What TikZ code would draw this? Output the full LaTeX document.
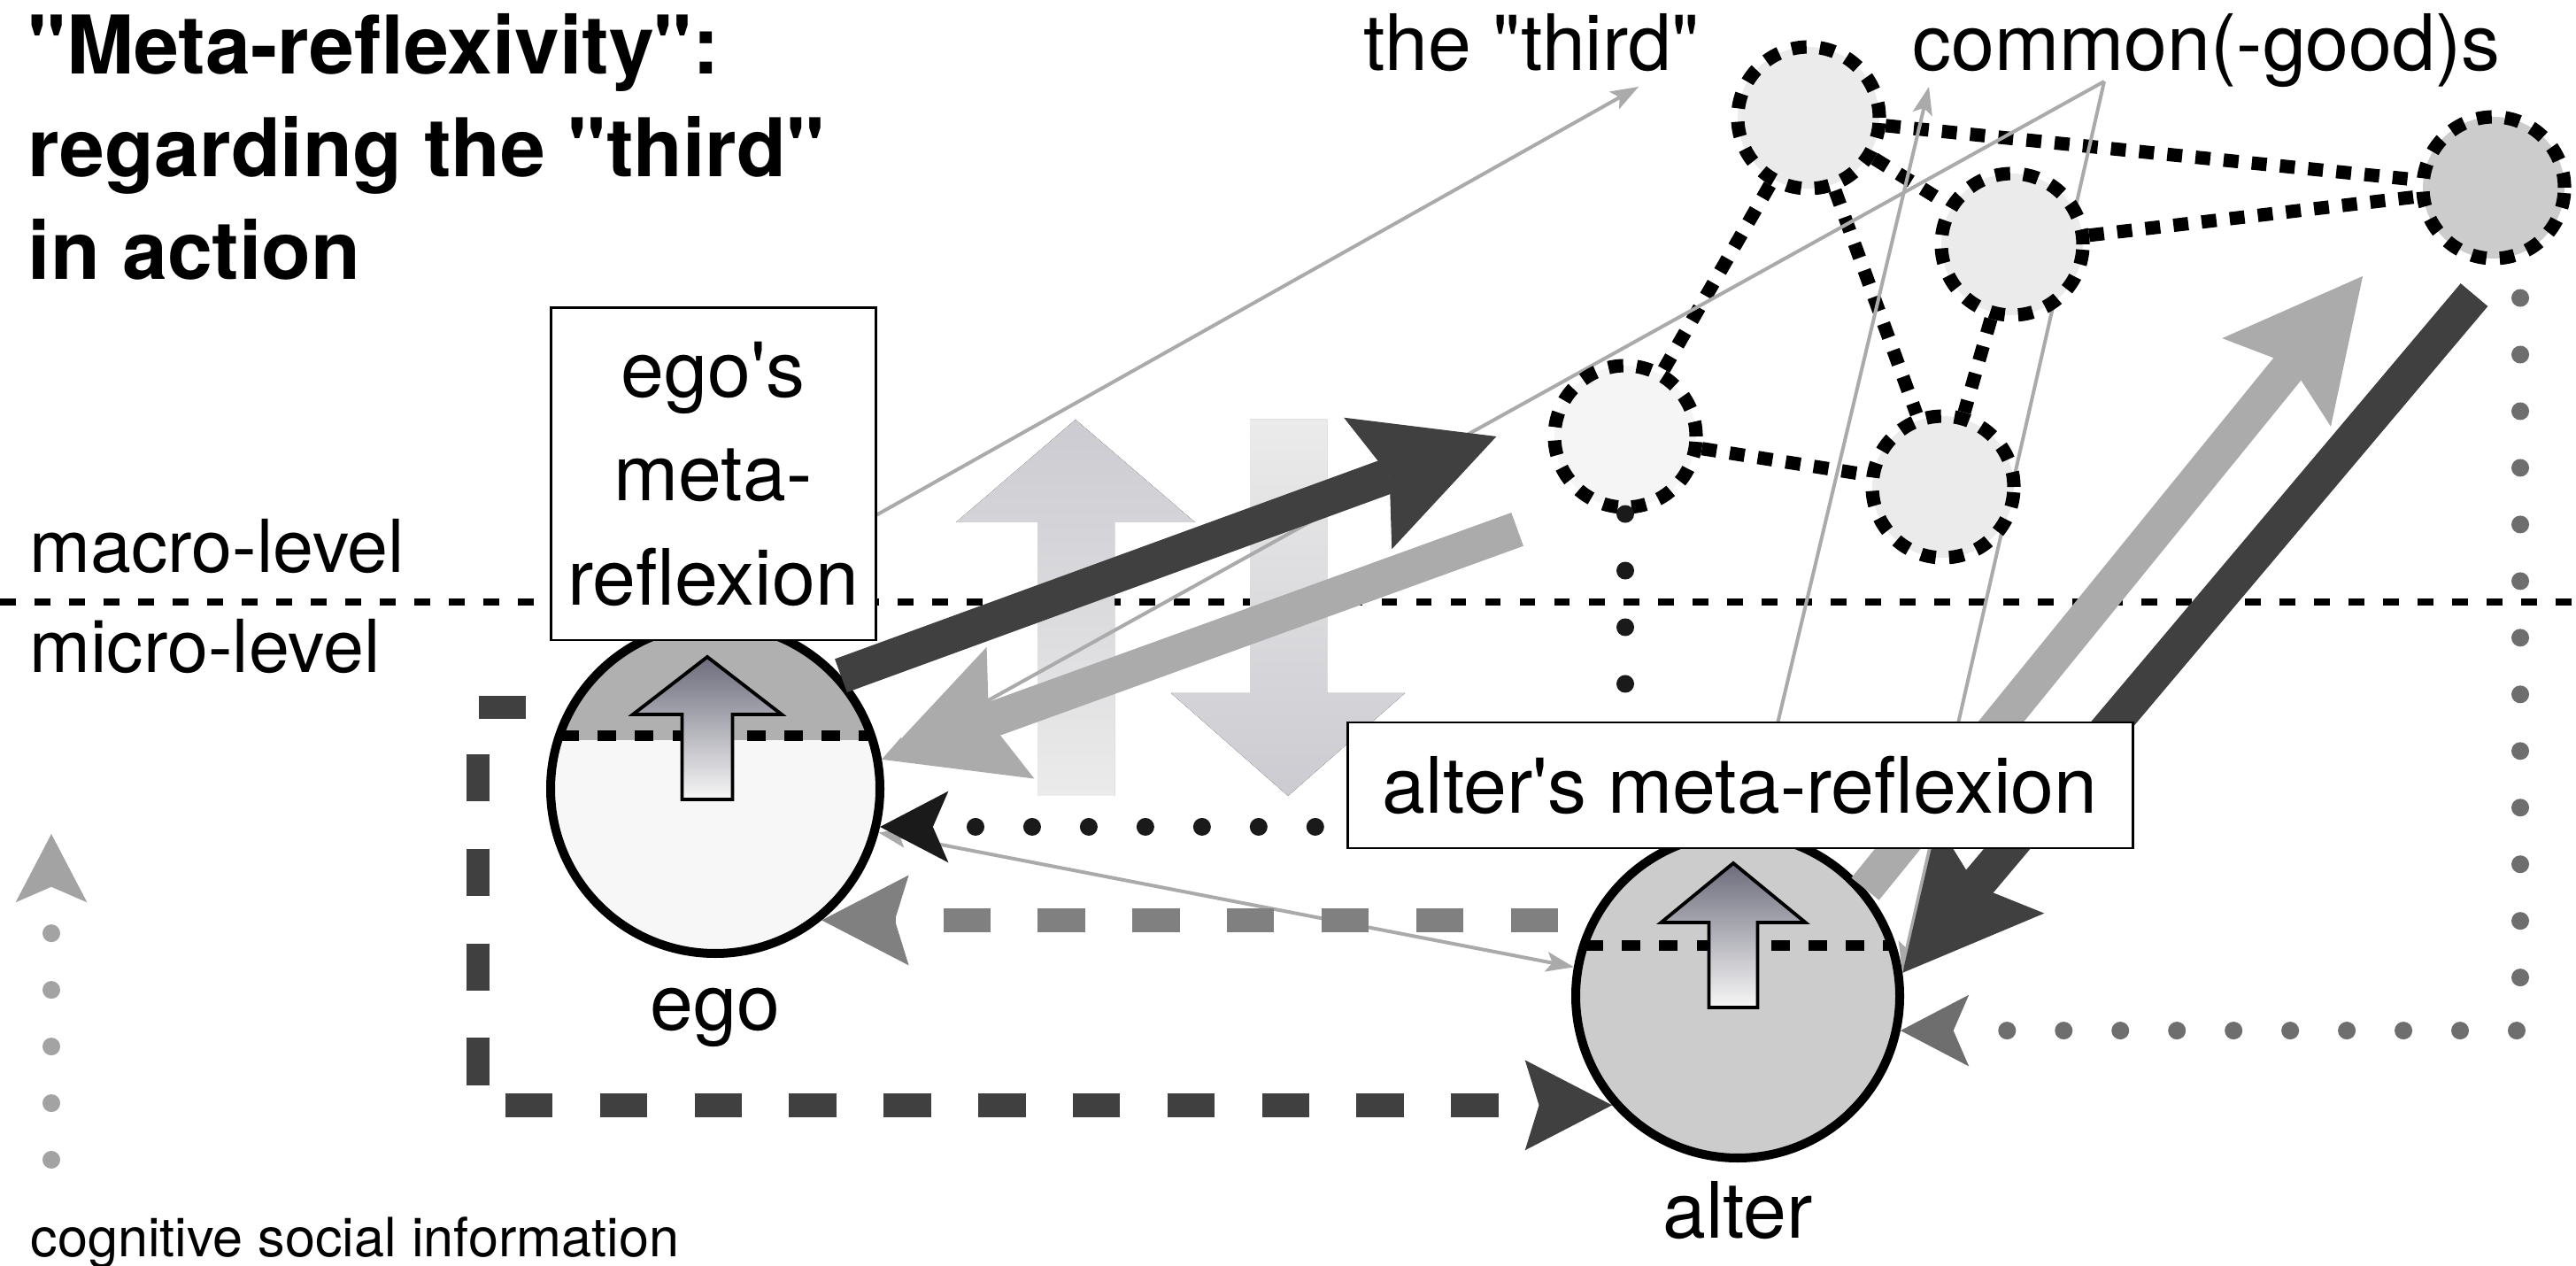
\documentclass[tikz,border=0pt]{standalone}
\usepackage{fontspec}
\setmainfont{TeX Gyre Heros}
\usetikzlibrary{positioning,arrows.meta,calc}

\definecolor{arrowdark}{HTML}{404040}
\definecolor{arrowlight}{HTML}{ABABAB}
\definecolor{thingray}{HTML}{AAAAAA}
\definecolor{dashgrey}{HTML}{808080}
\definecolor{dashdark}{HTML}{404040}
\definecolor{dotgray}{HTML}{6E6E6E}
\definecolor{dotblack}{HTML}{1A1A1A}
\definecolor{legendgray}{HTML}{A3A3A3}
\definecolor{egotop}{HTML}{B0B0B0}
\definecolor{egobot}{HTML}{F7F7F7}
\definecolor{altergray}{HTML}{CCCCCC}
\definecolor{netlight}{HTML}{EBEBEB}
\definecolor{netpale}{HTML}{F5F5F5}
\definecolor{netdark}{HTML}{CCCCCC}
\definecolor{blockdark}{HTML}{CBCBD1}
\definecolor{blocklight}{HTML}{EBEBEB}
\definecolor{innertop}{HTML}{6C6C7C}

\pgfdeclarelayer{back}
\pgfdeclarelayer{lines}
\pgfdeclarelayer{thick}
\pgfdeclarelayer{front}
\pgfsetlayers{back,lines,main,thick,front}

\begin{document}
\begin{tikzpicture}[
  bigtip/.tip={Stealth[length=44pt, width=45pt, inset=7.4pt, line width=0pt]},
  dashtip/.tip={Stealth[length=28pt, width=29pt, inset=4.5pt, line width=0pt]},
  dottip/.tip={Stealth[length=22pt, width=23pt, inset=5pt, line width=0pt]},
  thintip/.tip={Stealth[length=9pt, width=6.5pt, inset=2pt, line width=0pt]},
  headline/.style={font=\fontsize{26}{33}\selectfont\bfseries, align=left, inner sep=0pt},
  lbl/.style={font=\fontsize{25}{33.3}\selectfont, inner sep=0pt},
  levellbl/.style={font=\fontsize{23.5}{28}\selectfont, inner sep=0pt, anchor=base west},
  legendlbl/.style={font=\fontsize{17.4}{21}\selectfont, inner sep=0pt, anchor=base west},
  metabox/.style={lbl, draw, line width=0.85pt, fill=white, align=center},
  seam/.style={line width=3.2pt, dash pattern=on 6pt off 6pt},
  person/.style n args={3}{circle, draw, line width=2.85pt, inner sep=0pt,
    minimum size=#1, fill=#3,
    path picture={
      \fill[#2] (path picture bounding box.north west) rectangle ([yshift=0.55cm]path picture bounding box.east);
    }},
  innerarrow/.style={draw, line width=1.1pt, top color=innertop, bottom color=egobot},
  common/.style={circle, draw, line width=4.3pt, dash pattern=on 4.8pt off 4.3pt,
    minimum size=1.6cm, inner sep=0pt, fill=#1},
  netedge/.style={line width=4.3pt, dash pattern=on 4.8pt off 4.3pt},
  levelline/.style={line width=2pt, dash pattern=on 5.1pt off 6pt},
  blockup/.style={top color=blockdark, bottom color=blocklight},
  blockdown/.style={top color=blocklight, bottom color=blockdark},
  thickarrow/.style={line width=11.4pt, -bigtip, #1},
  thinarrow/.style={line width=1.14pt, thingray, -thintip},
  dotline/.style={line width=5.7pt, line cap=round, dash pattern=on 0pt off 18.2pt, -dottip, #1},
  dashline/.style={line width=7.5pt, dash pattern=on 15.2pt off 15.2pt, -dashtip, #1}
]
\useasboundingbox (0,0) rectangle (29.10,-14.30);

\node[headline, anchor=north west] (title) at (0.31,-0.15)
  {\textquotedbl Meta-reflexivity\textquotedbl:\\regarding the \textquotedbl third\textquotedbl\\in action};
\node[lbl, anchor=base west] (third) at (15.40,-0.80) {the \textquotedbl third\textquotedbl};
\node[lbl, anchor=base west] (goods) at (21.60,-0.80) {common(-good)s};
\node[levellbl] (macro) at (0.33,-6.47) {macro-level};
\node[levellbl] (micro) at (0.33,-7.60) {micro-level};
\node[legendlbl] (cogninfo) at (0.34,-14.19) {cognitive social information};

\node[person={3.72cm}{egotop}{egobot}] (ego) at (8.08,-8.91) {};
\node[person={3.66cm}{altergray}{altergray}] (alter) at (19.63,-11.25) {};
\node[lbl, below=0.81cm of ego, anchor=base] (egoname) {ego};
\node[lbl, below=0.85cm of alter, anchor=base] (altername) {alter};

\draw[seam] ($(ego.center)+(-1.75,0.6)$) -- ($(ego.center)+(1.75,0.6)$);
\draw[seam] ($(alter.center)+(-1.73,0.57)$) -- ($(alter.center)+(1.73,0.57)$);

\draw[innerarrow, shift={($(ego.center)+(-0.09,0)$)}] (-0.285,-0.12) -- (0.285,-0.12)
  -- (0.285,0.84) -- (0.84,0.84) -- (0,1.49) -- (-0.84,0.84) -- (-0.285,0.84) -- cycle;
\draw[innerarrow, shift={($(alter.center)+(-0.05,0)$)}] (-0.275,-0.13) -- (0.275,-0.13)
  -- (0.275,0.83) -- (0.815,0.83) -- (0,1.50) -- (-0.815,0.83) -- (-0.275,0.83) -- cycle;

\node[common=netlight] (n1) at (20.43,-1.33) {};
\node[common=netlight] (n2) at (22.73,-2.76) {};
\node[common=netdark] (n3) at (28.17,-2.12) {};
\node[common=netpale] (n4) at (18.36,-4.93) {};
\node[common=netlight] (n5) at (21.95,-5.50) {};

\begin{pgfonlayer}{front}
\node[metabox, minimum width=3.67cm, minimum height=3.75cm] (egobox) at (8.055,-5.355)
  {ego\textquotesingle s\\meta-\\reflexion};
\node[metabox, minimum width=8.87cm, minimum height=1.42cm] (alterbox) at (19.655,-8.87)
  {alter\textquotesingle s meta-reflexion};
\end{pgfonlayer}

\coordinate (thirdtip) at (18.51,-0.98);
\coordinate (goodstip) at (21.79,-0.98);
\coordinate (goodsfoot) at (23.77,-0.92);
\coordinate (legbot) at (0.58,-13.10);
\coordinate (legtop) at (0.58,-9.42);

\begin{pgfonlayer}{back}
\draw[levelline] (0,-6.80) -- (29.10,-6.80);
\fill[blockup] (11.72,-8.99) -- (11.72,-5.90) -- (10.80,-5.90) -- (12.15,-4.74)
  -- (13.50,-5.90) -- (12.59,-5.90) -- (12.59,-8.99) -- cycle;
\fill[blockdown] (14.12,-4.74) -- (14.12,-7.83) -- (13.23,-7.83) -- (14.55,-8.99)
  -- (15.87,-7.83) -- (14.99,-7.83) -- (14.99,-4.74) -- cycle;
\end{pgfonlayer}

\begin{pgfonlayer}{lines}
\foreach \a/\b in {n1/n2,n1/n3,n1/n4,n1/n5,n2/n3,n2/n5,n4/n5}
  \draw[netedge] (\a) -- (\b);
\draw[thinarrow] ([yshift=-0.46cm]egobox.east) -- (thirdtip);
\draw[thinarrow] (alter.85) -- (goodstip);
\draw[thinarrow] (goodsfoot) -- (ego.10);
\draw[thinarrow] (goodsfoot) -- (alter.9);
\draw[thinarrow, thintip-thintip] (ego.-15) -- (alter.170);
\end{pgfonlayer}

\begin{pgfonlayer}{thick}
\draw[thickarrow=arrowdark] (ego.42) -- ([xshift=-0.58cm]n4.west);
\draw[thickarrow=arrowlight] ([xshift=-0.6cm,yshift=-0.43cm]n4.south west) -- (ego.10);
\draw[thickarrow=arrowlight] (alter.40) -- ([xshift=-0.86cm,yshift=-0.38cm]n3.south west);
\draw[thickarrow=arrowdark] ([xshift=-0.22cm,yshift=-0.335cm]n3.south) -- (alter.8);

\draw[dotline=dotblack] (n4.south) |- (ego.-13);
\draw[dotline=dotgray, shorten <=0.37cm] ([xshift=0.3cm]n3.south) |- (alter.-12);
\draw[dashline=dashgrey, shorten <=0.15cm] (alter.west |- ego.-51) -- (ego.-51);
\draw[dashline=dashdark] ($(ego.center)+(-2.14,0.92)$) -- ++(-0.54,0) |- (alter.221);
\draw[dotline=legendgray] (legbot) -- (legtop);
\end{pgfonlayer}
\end{tikzpicture}
\end{document}
